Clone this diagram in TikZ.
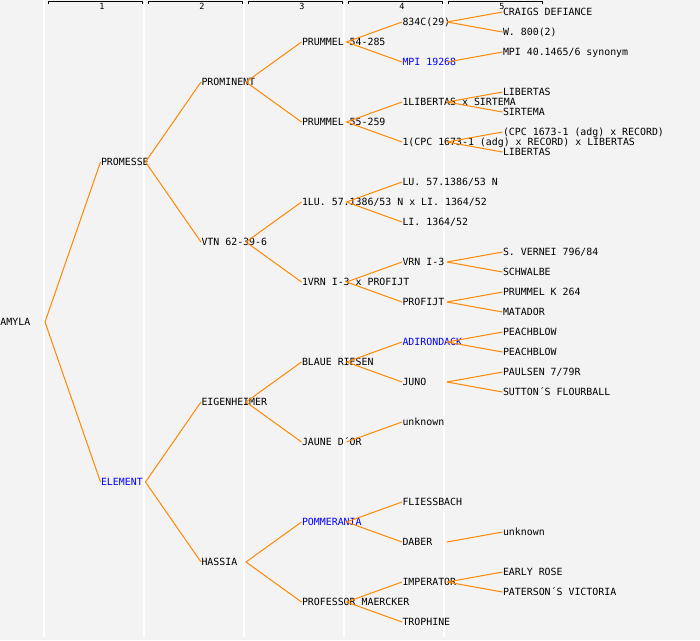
\documentclass[tikz,border=0pt]{standalone}
\usepackage{fontspec}
\setmonofont{DejaVu Sans Mono}
\usepackage{tikz}
\definecolor{pedorange}{RGB}{255,136,0}
\definecolor{pedblue}{RGB}{0,0,255}
\definecolor{pedback}{RGB}{243,243,243}
\tikzset{
  pnode/.style = {anchor=west, inner sep=0pt, outer sep=0pt,
    text height=7pt, text depth=0pt,
    execute at begin node={\hbox to 0pt\bgroup},
    execute at end node={\hss\egroup},
    font=\ttfamily\fontsize{9.9}{10}\selectfont},% pedigree name, zero width
  pnode_b/.style = {pnode, text=pedblue},% pedigree name, blue
  colnum/.style = {inner sep=0pt, font=\ttfamily\fontsize{8.5}{9}\selectfont}% generation number
}
\begin{document}
\begin{tikzpicture}[x=1pt, y=-1pt, grow'=right,
  level/.style={sibling distance = 320pt/2^(#1-1), level distance = 100pt},
  every child node/.style={pnode},
  edge from parent/.style={draw=pedorange, line width=1pt},
  edge from parent path={([xshift=45pt]\tikzparentnode.west) -- (\tikzchildnode.west)}]
\fill[pedback] (0,0) rectangle (700,640);
\useasboundingbox (0,0) rectangle (700,640);
\foreach \x in {44,144,244,344,444}
  \draw[white, line width=1.5pt] (\x,0) -- (\x,637);
\foreach \i in {1,...,5}{
  \draw[black, line width=1pt] (100*\i-52,3.5) -- (100*\i-52,1.5) -- (100*\i+42,1.5) -- (100*\i+42,3.5);
  \node[colnum] (gen\i) at (100*\i+2,6.5) {\i};
}
\node [pnode] (amyla) at (0,322) {AMYLA}
  child{ node (promesse) {PROMESSE}
    child{ node (prominent) {PROMINENT}
      child{ node (prum54) {PRUMMEL 54-285}
        child{ node (c834) {834C(29)}
          child{ node (craigs) {CRAIGS DEFIANCE}}
          child{ node (w800) {W. 800(2)}}
        }
        child{ node [pnode_b] (mpi19268) {MPI 19268}
          child{ node (mpi40) {MPI 40.1465/6 synonym}}
          child[missing]
        }
      }
      child{ node (prum55) {PRUMMEL 55-259}
        child{ node (libsir) {1LIBERTAS x SIRTEMA}
          child{ node (libertas_a) {LIBERTAS}}
          child{ node (sirtema) {SIRTEMA}}
        }
        child{ node (cpclib) {1(CPC 1673-1 (adg) x RECORD) x LIBERTAS}
          child{ node (cpcrec) {(CPC 1673-1 (adg) x RECORD)}}
          child{ node (libertas_b) {LIBERTAS}}
        }
      }
    }
    child{ node (vtn) {VTN 62-39-6}
      child{ node (luli) {1LU. 57.1386/53 N x LI. 1364/52}
        child{ node (lu) {LU. 57.1386/53 N}}
        child{ node (li) {LI. 1364/52}}
      }
      child{ node (vrnprof) {1VRN I-3 x PROFIJT}
        child{ node (vrn) {VRN I-3}
          child{ node (svernei) {S. VERNEI 796/84}}
          child{ node (schwalbe) {SCHWALBE}}
        }
        child{ node (profijt) {PROFIJT}
          child{ node (prumk) {PRUMMEL K 264}}
          child{ node (matador) {MATADOR}}
        }
      }
    }
  }
  child{ node [pnode_b] (element) {ELEMENT}
    child{ node (eigen) {EIGENHEIMER}
      child{ node (blaue) {BLAUE RIESEN}
        child{ node [pnode_b] (adiron) {ADIRONDACK}
          child{ node (peach_a) {PEACHBLOW}}
          child{ node (peach_b) {PEACHBLOW}}
        }
        child{ node (juno) {JUNO}
          child{ node (paulsen) {PAULSEN 7/79R}}
          child{ node (sutton) {SUTTON´S FLOURBALL}}
        }
      }
      child{ node (jaune) {JAUNE D´OR}
        child{ node (unknown_a) {unknown}}
        child[missing]
      }
    }
    child{ node (hassia) {HASSIA}
      child{ node [pnode_b] (pommer) {POMMERANIA}
        child{ node (fliess) {FLIESSBACH}}
        child{ node (daber) {DABER}
          child{ node (unknown_b) {unknown}}
          child[missing]
        }
      }
      child{ node (prof) {PROFESSOR MAERCKER}
        child{ node (imperator) {IMPERATOR}
          child{ node (early) {EARLY ROSE}}
          child{ node (paterson) {PATERSON´S VICTORIA}}
        }
        child{ node (trophine) {TROPHINE}}
      }
    }
  };
\end{tikzpicture}
\end{document}
